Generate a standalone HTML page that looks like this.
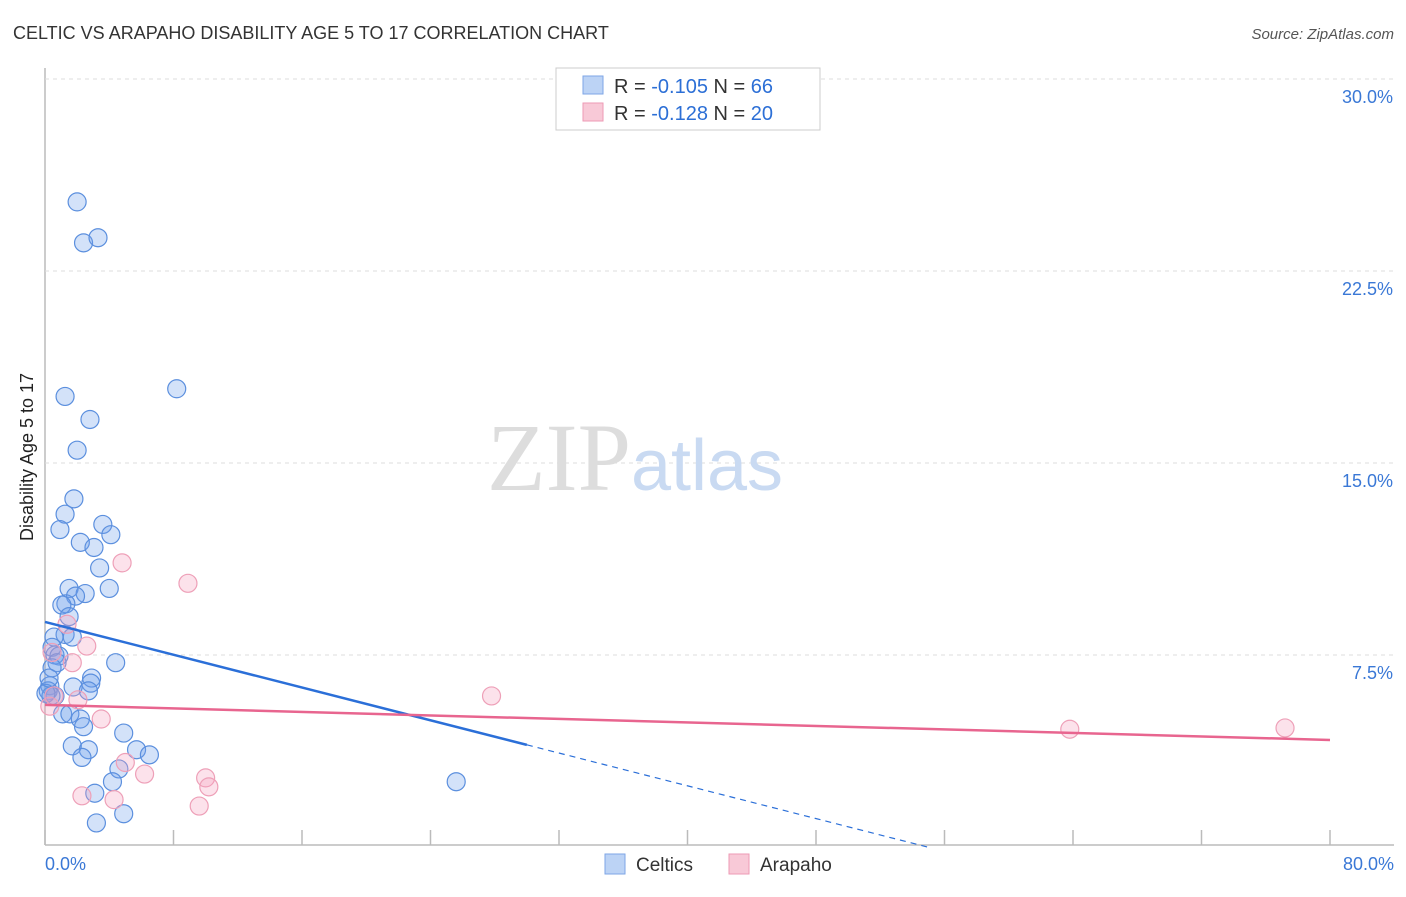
<!DOCTYPE html>
<html><head><meta charset="utf-8"><style>
body{margin:0;background:#fff;font-family:"Liberation Sans",sans-serif}
</style></head><body>
<svg width="1406" height="892" xmlns="http://www.w3.org/2000/svg">
<text x="13" y="39" font-size="18" fill="#333">CELTIC VS ARAPAHO DISABILITY AGE 5 TO 17 CORRELATION CHART</text>
<text x="1394" y="39" font-size="15" fill="#555" font-style="italic" text-anchor="end">Source: ZipAtlas.com</text>
<text x="0" y="0" font-size="18" fill="#222" transform="translate(33,457) rotate(-90)" text-anchor="middle">Disability Age 5 to 17</text>
<g id="grid"></g>
<g id="wm"><text x="635" y="490" font-size="96" font-family="Liberation Serif" fill="#ddd" text-anchor="middle">ZIP<tspan fill="#c9daf2" font-family="Liberation Sans" font-size="72">atlas</tspan></text></g>
<g id="marks"></g>
<g id="lines"></g>
<g>
<rect x="556" y="68" width="264" height="62" fill="#fff" stroke="#ccc"/>
<rect x="583" y="76" width="20" height="18" fill="#bcd3f5" stroke="#7ea6e6"/>
<rect x="583" y="103" width="20" height="18" fill="#f8c9d7" stroke="#ee9ab4"/>
<text x="614" y="93" font-size="20" fill="#333">R = <tspan fill="#2c6fd6">-0.105</tspan>   N = <tspan fill="#2c6fd6">66</tspan></text>
<text x="614" y="120" font-size="20" fill="#333">R = <tspan fill="#2c6fd6">-0.128</tspan>   N = <tspan fill="#2c6fd6">20</tspan></text>
</g>
<g>
<rect x="605" y="854" width="20" height="20" fill="#bcd3f5" stroke="#7ea6e6"/>
<text x="636" y="871" font-size="19" fill="#333">Celtics</text>
<rect x="729" y="854" width="20" height="20" fill="#f8c9d7" stroke="#ee9ab4"/>
<text x="760" y="871" font-size="19" fill="#333">Arapaho</text>
</g>
</svg>
<script>
const yTicks=[7.5,15,22.5,30];
const yTickLabels=["7.5%","15.0%","22.5%","30.0%"];
const xTickLabels=["0.0%","80.0%"];
const celticsX=[2.0,2.4,3.3,8.2,1.25,2.8,2.0,1.8,1.25,0.93,3.6,4.1,2.2,3.05,3.4,1.5,4.0,2.5,1.9,1.3,1.05,1.5,1.25,1.7,0.56,0.44,0.62,0.87,0.75,4.4,0.44,2.9,2.85,0.3,0.2,1.75,2.7,0.62,1.1,1.55,2.2,2.4,4.9,5.7,6.5,1.7,2.7,2.3,4.6,4.2,3.1,4.9,3.2,25.6,0.37,0.06,0.25];
const celticsY=[25.2,23.6,23.8,17.9,17.6,16.7,15.5,13.6,13.0,12.4,12.6,12.2,11.9,11.7,10.9,10.1,10.1,9.9,9.8,9.5,9.45,9.0,8.3,8.2,8.2,7.8,7.5,7.46,7.2,7.2,7.0,6.6,6.4,6.3,6.1,6.25,6.1,5.9,5.2,5.2,5.0,4.7,4.45,3.8,3.6,3.95,3.8,3.5,3.05,2.55,2.1,1.3,0.94,2.55,5.9,6.0,6.6];
const arapahoX=[4.8,8.9,1.37,2.6,1.7,0.44,0.56,2.05,3.5,27.8,63.8,77.2,5.0,6.2,10.0,10.2,2.3,4.3,9.6,0.3];
const arapahoY=[11.1,10.3,8.7,7.85,7.2,7.6,5.9,5.75,5.0,5.9,4.6,4.65,3.3,2.85,2.7,2.35,2.0,1.85,1.6,5.5];
const celticsTrend=[8.79,-0.16]; // intercept, slope
const arapahoTrend=[5.55,-0.0171];
const NS="http://www.w3.org/2000/svg";
const X0=45,X1=1330,Y0=847,Y1=79;
const sx=v=>X0+v/80*(X1-X0), sy=v=>Y0-v/30*(Y0-Y1);
function mk(t,a,p){const e=document.createElementNS(NS,t);for(const k in a)e.setAttribute(k,a[k]);p.appendChild(e);return e;}
const grid=document.getElementById('grid');
mk('line',{x1:45,y1:68,x2:45,y2:845,stroke:'#bbb','stroke-width':1.5},grid);
mk('line',{x1:45,y1:845,x2:1394,y2:845,stroke:'#bbb','stroke-width':1.5},grid);
yTicks.forEach((t,i)=>{
 const l=mk('line',{x1:45,y1:sy(t),x2:1394,y2:sy(t),stroke:'#ddd','stroke-dasharray':'4,4'},grid);
 
 
 const tx=mk('text',{x:1393,y:sy(t)+24,'font-size':18,fill:'#3a78d6','text-anchor':'end'},grid);
 tx.textContent=yTickLabels[i];
 
 
});
for(let i=0;i<=10;i++){
 const l=mk('line',{x1:sx(i*8),y1:830,x2:sx(i*8),y2:845,stroke:'#bbb','stroke-width':1.5},grid);
 
 
}
[[0,'start',45],[80,'end',1394]].forEach((d,i)=>{
 const tx=mk('text',{x:d[2],y:870,'font-size':18,fill:'#3a78d6','text-anchor':d[1]},grid);
 tx.textContent=xTickLabels[i];
 
 
});
const marks=document.getElementById('marks');
celticsX.forEach((x,i)=>{
 const c=mk('circle',{cx:sx(x),cy:sy(celticsY[i]),r:9,fill:'rgba(110,160,235,0.3)',stroke:'#5b8fde','stroke-width':1.2},marks);
 
 
});
arapahoX.forEach((x,i)=>{
 const c=mk('circle',{cx:sx(x),cy:sy(arapahoY[i]),r:9,fill:'rgba(245,160,190,0.3)',stroke:'#eea0b8','stroke-width':1.2},marks);
 
 
});
const lines=document.getElementById('lines');
const ct=x=>celticsTrend[0]+celticsTrend[1]*x;
let l1=mk('line',{x1:sx(0),y1:sy(ct(0)),x2:sx(30),y2:sy(ct(30)),stroke:'#2b6fd8','stroke-width':2.5},lines);


const xe=-celticsTrend[0]/celticsTrend[1];
let l2=mk('line',{x1:sx(30),y1:sy(ct(30)),x2:sx(Math.min(xe,80)),y2:sy(ct(Math.min(xe,80))),stroke:'#2b6fd8','stroke-width':1.2,'stroke-dasharray':'6,5'},lines);


const at=x=>arapahoTrend[0]+arapahoTrend[1]*x;
let l3=mk('line',{x1:sx(0),y1:sy(at(0)),x2:sx(80),y2:sy(at(80)),stroke:'#e8658f','stroke-width':2.5},lines);


</script>
</body></html>
